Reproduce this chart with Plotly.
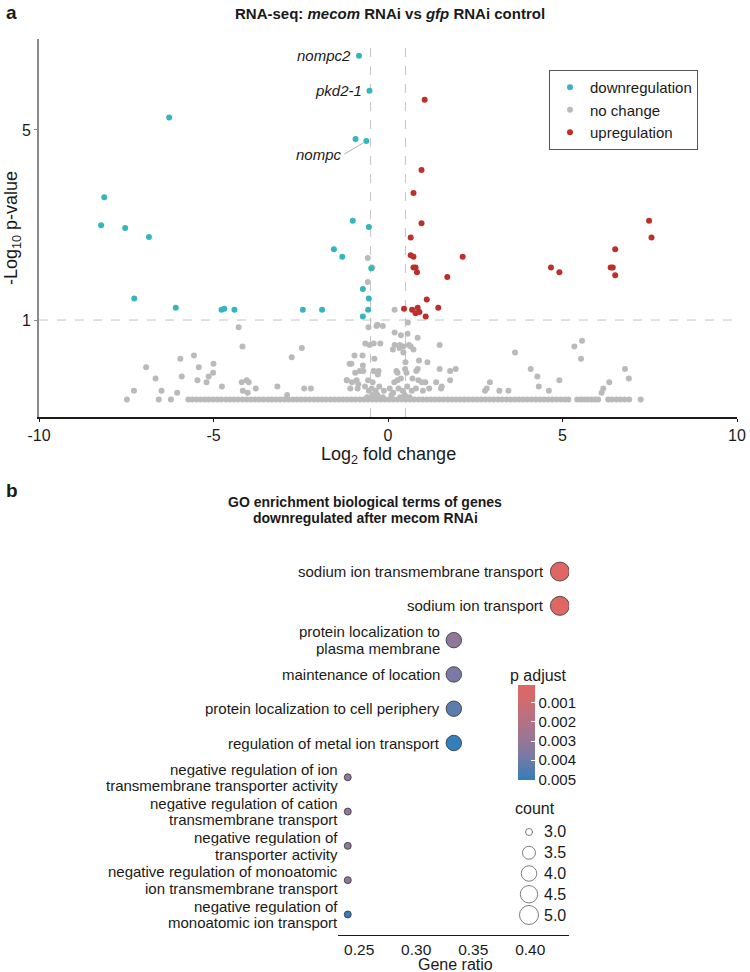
import math
import plotly.graph_objects as go

W, H = 750, 972
FONT = "Liberation Sans, Arial, sans-serif"
TXT = "#1a1a1a"

# ---------------- Panel a: volcano data ----------------
down_x = [-0.83, -0.53, -6.27, -0.93, -0.62, -8.13, -8.22, -7.53, -6.85, -1.01, -0.55, -1.55, -1.31,
          -0.48, -0.72, -0.55, -7.27, -6.08, -4.77, -4.69, -4.40, -2.44, -1.89, -0.57, -0.72]
down_y = [9.37, 6.97, 5.56, 4.63, 4.55, 2.83, 2.23, 2.18, 2.02, 2.32, 2.20, 1.82, 1.71,
          1.55, 1.30, 1.20, 1.20, 1.11, 1.09, 1.10, 1.09, 1.09, 1.09, 1.09, 1.03]

up_x = [1.05, 0.96, 0.73, 0.96, 0.65, 0.65, 0.73, 2.14, 0.73, 0.79, 0.83, 1.70, 4.67, 4.91,
        6.38, 6.44, 6.51, 6.51, 7.48, 7.55, 1.11, 1.44, 0.46, 0.69, 0.85, 0.79, 0.90, 1.08]
up_y = [6.46, 3.56, 2.93, 2.27, 2.01, 1.73, 1.71, 1.71, 1.56, 1.56, 1.50, 1.44, 1.56, 1.50,
        1.56, 1.56, 1.82, 1.46, 2.32, 2.01, 1.19, 1.11, 1.10, 1.09, 1.11, 1.06, 1.07, 1.03]

# scattered "no change" genes
nc_scatter_x = [-7.28, -6.93, -6.66, -6.49, -6.04, -5.95, -5.91, -5.56, -5.46, -5.42, -5.20, -5.14,
                -5.00, -5.01, -4.76, -4.28, -4.19, -4.17, -4.16, -4.05, -4.02, -3.99, -3.79, -3.17,
                -2.89, -2.76, -2.47, -2.40, -2.21,
                -0.58, -0.45, -0.58, 0.19, -0.56, -0.33, -0.30, -0.15, 0.57, 0.19, 0.37, 0.56, 0.85,
                -0.65, -0.53, -0.41, -0.22, 0.19, 0.34, 0.33, 0.44, 0.60, 0.65, 0.73, 1.48,
                -0.96, -0.73, -0.39, 0.14, 0.44, 0.50, 0.89, 1.13, -1.05, -0.72, -1.10,
                -0.81, -0.94, -0.71, -0.41, -0.27, -0.29, 0.24, 0.27, 0.49, 0.53, 0.81, 0.85, 1.48,
                1.78, 1.94, 0.70, -1.18, -0.90, -1.03, -0.57, -0.44, 0.27, 0.37, 0.18, 0.87, 0.97,
                1.07, 1.38, 1.78, 1.54, -1.08, -0.87, -0.66, -0.55, -0.47, -0.35, -0.25, -0.12, 0.05,
                0.15, 0.30, 0.42, 0.55, 0.68, 0.80, 1.00, 1.18, 1.52, -0.45, -0.30, -0.15, 0.10,
                0.35, 0.48, -0.60, 0.62, -0.85, -1.18,
                3.64, 5.34, 5.56, 5.53, 4.09, 4.28, 4.91, 4.32, 4.61, 2.92, 3.19, 3.45, 2.78, 2.83,
                6.79, 6.90, 6.34, 6.17, 6.12]
nc_scatter_y = [0.55, 0.67, 0.61, 0.55, 0.54, 0.72, 0.62, 0.74, 0.60, 0.67, 0.59, 0.62,
                0.69, 0.64, 0.57, 0.94, 0.59, 0.80, 0.55, 0.60, 0.54, 0.59, 0.56, 0.57,
                0.53, 0.73, 0.79, 0.56, 0.56,
                1.69, 1.56, 1.38, 1.09, 0.94, 0.95, 0.96, 0.95, 0.98, 0.90, 0.88, 0.89, 0.86,
                0.82, 0.81, 0.82, 0.82, 0.81, 0.81, 0.79, 0.80, 0.81, 0.80, 0.78, 0.81,
                0.74, 0.74, 0.72, 0.78, 0.76, 0.70, 0.71, 0.70, 0.69, 0.68, 0.69,
                0.65, 0.64, 0.65, 0.65, 0.65, 0.63, 0.65, 0.64, 0.66, 0.64, 0.65, 0.66, 0.66,
                0.65, 0.66, 0.61, 0.60, 0.60, 0.59, 0.60, 0.59, 0.60, 0.61, 0.59, 0.60, 0.59,
                0.59, 0.59, 0.60, 0.57, 0.56, 0.56, 0.57, 0.55, 0.56, 0.55, 0.57, 0.55, 0.56,
                0.54, 0.56, 0.55, 0.57, 0.55, 0.56, 0.55, 0.56, 0.56, 0.53, 0.53, 0.52, 0.53,
                0.52, 0.53, 0.52, 0.52, 0.58, 0.60,
                0.76, 0.80, 0.84, 0.72, 0.66, 0.62, 0.60, 0.57, 0.55, 0.59, 0.55, 0.55, 0.55, 0.56,
                0.66, 0.61, 0.59, 0.56, 0.54]
# the dense floor of "no change" genes
nc_floor_x = [-7.48, -6.57, -6.22,
              -5.72, -5.61, -5.49, -5.37, -5.25, -5.14, -5.01, -4.89, -4.78, -4.65, -4.53, -4.41,
              -4.29, -4.17, -4.05, -3.93, -3.81, -3.69, -3.57, -3.44, -3.33, -3.21, -3.09, -2.97,
              -2.85, -2.73, -2.61, -2.49, -2.37, -2.25, -2.13, -2.01, -1.89, -1.77, -1.65, -1.53,
              -1.41, -1.29, -1.17, -1.05, -0.93, -0.81, -0.69, -0.57, -0.45, -0.33, -0.21, -0.09,
              0.03, 0.15, 0.27, 0.39, 0.51, 0.63, 0.75, 0.87, 0.99, 1.11, 1.23, 1.35, 1.47, 1.59,
              1.71, 1.83, 1.95, 2.07, 2.19, 2.31, 2.43, 2.55, 2.67, 2.79, 2.91, 3.03, 3.15, 3.27,
              3.39, 3.51, 3.63, 3.75, 3.87, 3.99, 4.11, 4.23, 4.35, 4.47, 4.59, 4.71, 4.83, 4.95,
              5.07, 5.17,
              5.42, 5.53, 5.63, 5.72, 5.83, 5.93, 6.02, 6.31, 6.42, 6.55, 6.66, 6.78, 6.91, 7.24]
nc_floor_level = 0.51

nc_x = nc_scatter_x + nc_floor_x
nc_y = nc_scatter_y + [nc_floor_level] * len(nc_floor_x)

labelled_genes = ["nompc2", "pkd2-1", "nompc"]
labelled_idx = [0, 1, 4]          # index into the downregulated arrays

fc_cut = 0.5
p_cut = 1
vx_ticks = [-10, -5, 0, 5, 10]
vx_tick_labels = ["-10", "-5", "0", "5", "10"]
vy_ticks = [1, 5]
vy_tick_labels = ["1", "5"]
vx_range = [-10, 10]
vy_range = [0.44, 10.8]

C_DOWN = "#34b6bc"
C_NC = "#bababa"
C_UP = "#bf2f2a"

# ---------------- Panel b: GO dot plot data ----------------
terms = ["sodium ion transmembrane transport",
         "sodium ion transport",
         "protein localization to\nplasma membrane",
         "maintenance of location",
         "protein localization to cell periphery",
         "regulation of metal ion transport",
         "negative regulation of ion\ntransmembrane transporter activity",
         "negative regulation of cation\ntransmembrane transport",
         "negative regulation of\ntransporter activity",
         "negative regulation of monoatomic\nion transmembrane transport",
         "negative regulation of\nmonoatomic ion transport"]
gene_ratio = [0.426, 0.426, 0.333, 0.333, 0.333, 0.333, 0.240, 0.240, 0.240, 0.240, 0.240]
gene_count = [5, 5, 4, 4, 4, 4, 3, 3, 3, 3, 3]
p_adjust = [0.00008, 0.00010, 0.0032, 0.0038, 0.0043, 0.0050, 0.0031, 0.0031, 0.0031, 0.0031, 0.0050]

gr_ticks = [0.25, 0.30, 0.35, 0.40]
gr_tick_labels = ["0.25", "0.30", "0.35", "0.40"]
gr_range = [0.231, 0.434]
padj_ticks = [0.001, 0.002, 0.003, 0.004, 0.005]
padj_tick_labels = ["0.001", "0.002", "0.003", "0.004", "0.005"]
padj_range = [0.00008, 0.00503]
count_legend = [3.0, 3.5, 4.0, 4.5, 5.0]

# Lab-interpolated red -> blue gradient (low p adjust = red)
grad_red_to_blue = ["#e06663", "#c46e79", "#a3758e", "#7a7aa4", "#327eba"]

go_title_lines = ["GO enrichment biological terms of genes", "downregulated after mecom RNAi"]


def size_of(c):
    t = (c - min(count_legend)) / (max(count_legend) - min(count_legend))
    return 7 + 12 * math.sqrt(t)


def fx(p):
    return p / W


def fy(p):
    return 1 - p / H


fig = go.Figure()

# volcano traces
fig.add_trace(go.Scatter(x=nc_x, y=nc_y, mode="markers", name="no change",
                         marker=dict(color=C_NC, size=6), legendrank=2,
                         xaxis="x", yaxis="y"))
fig.add_trace(go.Scatter(x=down_x, y=down_y, mode="markers", name="downregulation",
                         marker=dict(color=C_DOWN, size=6), legendrank=1,
                         xaxis="x", yaxis="y"))
fig.add_trace(go.Scatter(x=up_x, y=up_y, mode="markers", name="upregulation",
                         marker=dict(color=C_UP, size=6), legendrank=3,
                         xaxis="x", yaxis="y"))

# GO dot plot (colour uses negated p adjust so low values sit at the top of the bar)
n = len(grad_red_to_blue)
cscale = [[i / (n - 1), c] for i, c in enumerate(reversed(grad_red_to_blue))]
sizes = [size_of(c) for c in gene_count]
fig.add_trace(go.Scatter(
    x=gene_ratio, y=terms, mode="markers", showlegend=False, xaxis="x2", yaxis="y2",
    marker=dict(size=sizes, sizemode="diameter", color=[-p for p in p_adjust],
                colorscale=cscale, cmin=-padj_range[1], cmax=-padj_range[0],
                line=dict(color="#333333", width=0.8), opacity=1,
                colorbar=dict(thickness=17, len=95, lenmode="pixels",
                              x=fx(518), xanchor="left", xpad=0,
                              y=fy(732.5), yanchor="middle", ypad=0,
                              outlinewidth=0,
                              tickvals=[-v for v in padj_ticks], ticktext=padj_tick_labels,
                              ticks="inside", ticklen=4, tickcolor="white",
                              tickfont=dict(size=15, color=TXT, family=FONT)))))

# size legend (circles)
fig.add_trace(go.Scatter(
    x=[0] * len(count_legend), y=count_legend, mode="markers", showlegend=False,
    xaxis="x3", yaxis="y3",
    marker=dict(size=[size_of(c) for c in count_legend], sizemode="diameter",
                color="white", line=dict(color="#333333", width=0.9))))

annotations = []


def ann(text, x, y, size, **kw):
    d = dict(text=text, x=fx(x), y=fy(y), xref="paper", yref="paper", showarrow=False,
             xanchor="center", yanchor="middle",
             font=dict(size=size, color=TXT, family=FONT))
    d.update(kw)
    annotations.append(d)


ann("<b>a</b>", 4, 12, 19, xanchor="left")
ann("<b>RNA-seq: <i>mecom</i> RNAi vs <i>gfp</i> RNAi control</b>", 390, 13, 15)
ann("Log<sub>2</sub> fold change", 388, 455, 18)
ann("-Log<sub>10</sub> p-value", 13, 228, 18, textangle=-90)
ann("<b>b</b>", 4, 490, 19, xanchor="left")
for k, line in enumerate(go_title_lines):
    ann("<b>%s</b>" % line, 365, 502 + 16.5 * k, 14, height=16.5, borderpad=0)
ann("Gene ratio", 455, 964, 16)
ann("p adjust", 508, 675, 16, xanchor="left")
ann("count", 535, 808, 16)

# size legend labels, aligned in one column
for c in count_legend:
    annotations.append(dict(text="%.1f" % c, x=0, y=c, xref="x3", yref="y3", showarrow=False,
                            xanchor="left", yanchor="middle", xshift=13,
                            font=dict(size=16, color=TXT, family=FONT)))

# gene labels in volcano
for name, i in zip(labelled_genes, labelled_idx):
    gx, gy = down_x[i], math.log10(down_y[i])
    if name == "nompc":
        annotations.append(dict(text="<i>%s</i>" % name, x=gx, y=gy, xref="x", yref="y",
                                showarrow=True, arrowhead=0, arrowwidth=0.8,
                                arrowcolor="#9a9a9a", ax=-22, ay=13, standoff=3,
                                xanchor="right", yanchor="middle",
                                font=dict(size=15, color=TXT, family=FONT)))
    else:
        annotations.append(dict(text="<i>%s</i>" % name, x=gx, y=gy, xref="x", yref="y",
                                showarrow=False, xanchor="right", yanchor="middle",
                                xshift=-6, font=dict(size=15, color=TXT, family=FONT)))

# term labels next to each dot (one annotation per line for tight line spacing)
LH = 16.5
for t, r, s in zip(terms, gene_ratio, sizes):
    lines = t.split("\n")
    k = len(lines)
    for j, line in enumerate(lines):
        annotations.append(dict(text=line, x=r, y=t, xref="x2", yref="y2", showarrow=False,
                                xanchor="right", yanchor="middle", height=LH, borderpad=0,
                                valign="middle",
                                xshift=-(s / 2 + 5), yshift=((k - 1) / 2 - j) * LH,
                                font=dict(size=15, color=TXT, family=FONT)))

shapes = []
for v in (-fc_cut, fc_cut):
    shapes.append(dict(type="line", xref="x", yref="y domain", x0=v, x1=v, y0=0, y1=1,
                       line=dict(color="#c4c4c4", width=1, dash="dash"), layer="below"))
shapes.append(dict(type="line", xref="x domain", yref="y", x0=0, x1=1, y0=p_cut, y1=p_cut,
                   line=dict(color="#c4c4c4", width=1, dash="dash"), layer="below"))

fig.update_layout(
    width=W, height=H, autosize=False,
    margin=dict(l=0, r=0, t=0, b=0, pad=0),
    paper_bgcolor="white", plot_bgcolor="white",
    font=dict(family=FONT, color=TXT),
    annotations=annotations, shapes=shapes,
    legend=dict(x=fx(549), y=fy(70), xanchor="left", yanchor="top",
                bordercolor="#555555", borderwidth=1, bgcolor="white",
                font=dict(size=15, color=TXT, family=FONT), itemwidth=30,
                tracegroupgap=0),
    xaxis=dict(domain=[fx(39), fx(737)], anchor="y", range=vx_range,
               tickvals=vx_ticks, ticktext=vx_tick_labels, showgrid=False, zeroline=False,
               showline=True, linecolor="#1a1a1a", linewidth=1.5, ticks="outside",
               ticklen=3, tickcolor="#1a1a1a", automargin=False,
               tickfont=dict(size=16, color=TXT, family=FONT)),
    yaxis=dict(domain=[fy(417), fy(39)], anchor="x", type="log",
               range=[math.log10(vy_range[0]), math.log10(vy_range[1])],
               tickvals=vy_ticks, ticktext=vy_tick_labels, showgrid=False, zeroline=False,
               showline=True, linecolor="#8a8a8a", linewidth=2, ticks="outside",
               ticklen=3, tickcolor="#8a8a8a", automargin=False,
               tickfont=dict(size=16, color=TXT, family=FONT)),
    xaxis2=dict(domain=[fx(337.5), fx(569)], anchor="y2", range=gr_range,
                tickvals=gr_ticks, ticktext=gr_tick_labels, showgrid=False, zeroline=False,
                showline=True, linecolor="#1a1a1a", linewidth=1.3, ticks="",
                automargin=False,
                tickfont=dict(size=15.5, color=TXT, family=FONT)),
    yaxis2=dict(domain=[fy(935), fy(551)], anchor="x2", type="category",
                categoryorder="array", categoryarray=terms,
                range=[len(terms) - 0.4, -0.6], visible=False, automargin=False),
    xaxis3=dict(domain=[fx(519), fx(619)], anchor="y3", range=[-0.1, 0.9], visible=False,
                automargin=False),
    yaxis3=dict(domain=[fy(927), fy(820)], anchor="x3", range=[5.289, 2.711], visible=False,
                automargin=False),
)

fig.write_html("out.html")
